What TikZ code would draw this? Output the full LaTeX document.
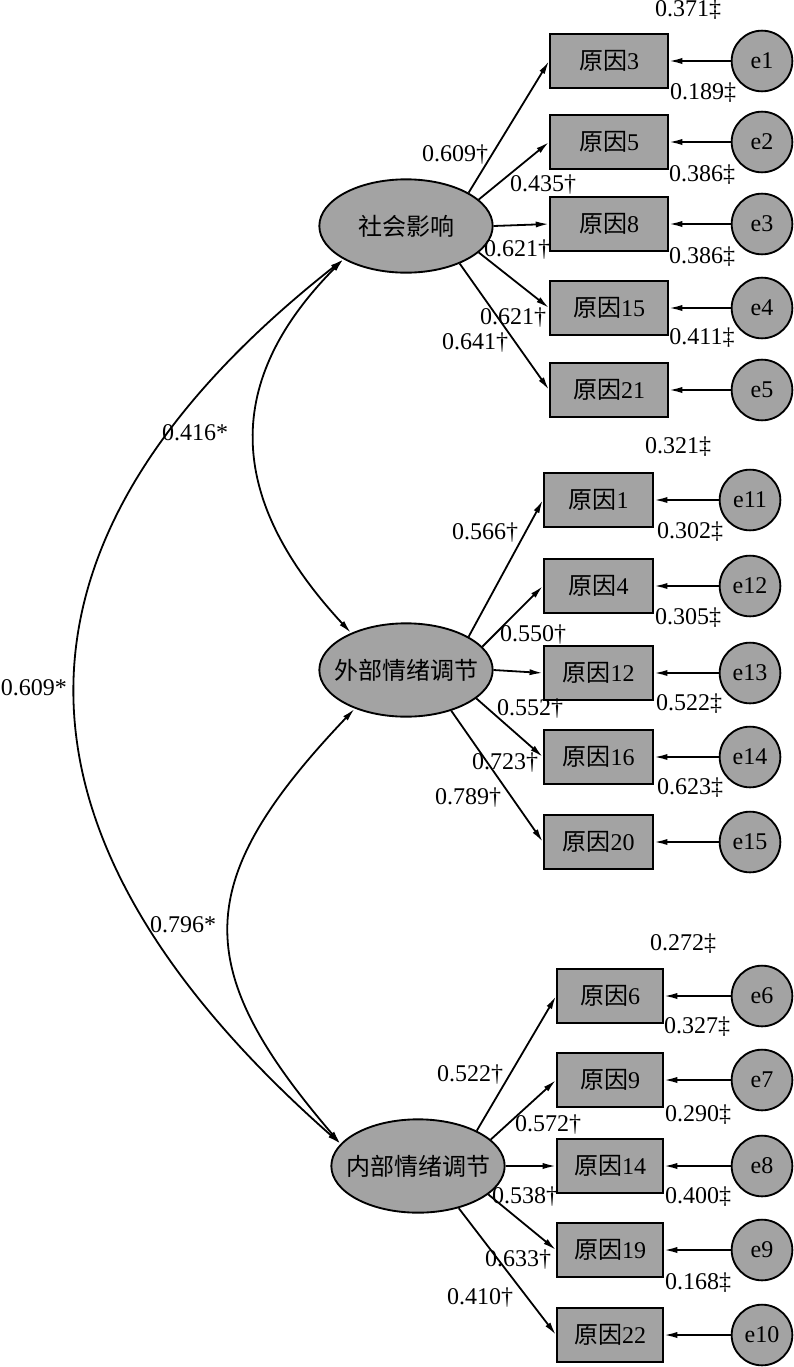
\documentclass[tikz,border=0pt]{standalone}
\usepackage{fontspec}
\setmainfont{Liberation Serif}
\newfontfamily\cjk{Noto Sans CJK SC}
\usetikzlibrary{shapes.geometric,arrows.meta}
\definecolor{fillgray}{RGB}{163,163,163}
\newcommand{\yuanyin}[1]{{\cjk 原因}#1}
\tikzset{
 every node/.style={font=\fontsize{18}{21}\selectfont},
 lat/.style={ellipse, draw, fill=fillgray, line width=1.4pt, minimum width=130pt, minimum height=70pt, inner sep=0pt, font=\cjk\fontsize{18}{21}\selectfont},
 obs/.style={rectangle, draw, fill=fillgray, line width=1.4pt, minimum height=40.5pt, inner sep=0pt},
 err/.style={circle, draw, fill=fillgray, line width=1.4pt, minimum size=45.5pt, inner sep=0pt},
 arr/.style={line width=1.35pt, -{Latex[length=10pt,width=4.6pt]}},
 dbl/.style={line width=1.35pt, {Latex[length=10pt,width=4.6pt]}-{Latex[length=10pt,width=4.6pt]}},
 lbl/.style={inner sep=0pt}
}
\begin{document}
\begin{tikzpicture}[x=0.75pt,y=-0.75pt]
\useasboundingbox (0,0) rectangle (793,1367);
% ---------- top group ----------
\node[lat] (s) at (406,226) {\makebox[0pt]{社会影响}};
\node[obs,minimum width=88.5pt] (b3) at (609,61) {\yuanyin{3}};
\node[obs,minimum width=88.5pt] (b5) at (609,142) {\yuanyin{5}};
\node[obs,minimum width=88.5pt] (b8) at (609,224) {\yuanyin{8}};
\node[obs,minimum width=88.5pt] (b15) at (609,308) {\yuanyin{15}};
\node[obs,minimum width=88.5pt] (b21) at (609,390) {\yuanyin{21}};
\node[err] (e1) at (762,61) {e1};
\node[err] (e2) at (762,142) {e2};
\node[err] (e3) at (762,224) {e3};
\node[err] (e4) at (762,308) {e4};
\node[err] (e5) at (762,390) {e5};
\foreach \a/\b in {e1/b3,e2/b5,e3/b8,e4/b15,e5/b21} \draw[arr] (\a) -- (\b);
\draw[arr] (s.28) -- (b3.west);
\draw[arr] (s.20) -- (b5.west);
\draw[arr] (s.0) -- (b8.west);
\draw[arr] (s.-20) -- (b15.west);
\draw[arr] (s.-35) -- (b21.west);
\node[lbl] (t1) at (688,10) {0.371‡};
\node[lbl] (t2) at (703,93) {0.189‡};
\node[lbl] (t3) at (702,175) {0.386‡};
\node[lbl] (t4) at (702,257) {0.386‡};
\node[lbl] (t5) at (702,338) {0.411‡};
\node[lbl] (t6) at (455,155) {0.609†};
\node[lbl] (t7) at (543,185) {0.435†};
\node[lbl] (t8) at (517,250) {0.621†};
\node[lbl] (t9) at (513,318) {0.621†};
\node[lbl] (t10) at (475,343) {0.641†};
% ---------- middle group ----------
\node[lat] (m) at (406,670) {\makebox[0pt]{外部情绪调节}};
\node[obs,minimum width=82pt] (b1) at (598.5,500) {\yuanyin{1}};
\node[obs,minimum width=82pt] (b4) at (598.5,586) {\yuanyin{4}};
\node[obs,minimum width=82pt] (b12) at (598.5,673) {\yuanyin{12}};
\node[obs,minimum width=82pt] (b16) at (598.5,757) {\yuanyin{16}};
\node[obs,minimum width=82pt] (b20) at (598.5,842) {\yuanyin{20}};
\node[err] (e11) at (750,500) {e11};
\node[err] (e12) at (750,586) {e12};
\node[err] (e13) at (750,673) {e13};
\node[err] (e14) at (750,757) {e14};
\node[err] (e15) at (750,842) {e15};
\foreach \a/\b in {e11/b1,e12/b4,e13/b12,e14/b16,e15/b20} \draw[arr] (\a) -- (\b);
\draw[arr] (m.28) -- (b1.west);
\draw[arr] (m.17.5) -- (b4.west);
\draw[arr] (m.0) -- (b12.west);
\draw[arr] (m.-22) -- (b16.west);
\draw[arr] (m.-42) -- (b20.west);
\node[lbl] (u1) at (678,447) {0.321‡};
\node[lbl] (u2) at (690,532) {0.302‡};
\node[lbl] (u3) at (688,618) {0.305‡};
\node[lbl] (u4) at (689,704) {0.522‡};
\node[lbl] (u5) at (690,788) {0.623‡};
\node[lbl] (u6) at (485,533) {0.566†};
\node[lbl] (u7) at (533,635) {0.550†};
\node[lbl] (u8) at (530,709) {0.552†};
\node[lbl] (u9) at (505,763) {0.723†};
\node[lbl] (u10) at (468,798) {0.789†};
% ---------- bottom group ----------
\node[lat] (i) at (418,1166) {\makebox[0pt]{内部情绪调节}};
\node[obs,minimum width=79.5pt] (b6) at (610,996) {\yuanyin{6}};
\node[obs,minimum width=79.5pt] (b9) at (610,1080) {\yuanyin{9}};
\node[obs,minimum width=79.5pt] (b14) at (610,1166) {\yuanyin{14}};
\node[obs,minimum width=79.5pt] (b19) at (610,1250) {\yuanyin{19}};
\node[obs,minimum width=79.5pt] (b22) at (610,1335) {\yuanyin{22}};
\node[err] (e6) at (762,996) {e6};
\node[err] (e7) at (762,1080) {e7};
\node[err] (e8) at (762,1166) {e8};
\node[err] (e9) at (762,1250) {e9};
\node[err] (e10) at (762,1335) {e10};
\foreach \a/\b in {e6/b6,e7/b9,e8/b14,e9/b19,e10/b22} \draw[arr] (\a) -- (\b);
\draw[arr] (i.31) -- (b6.west);
\draw[arr] (i.20) -- (b9.west);
\draw[arr] (i.0) -- (b14.west);
\draw[arr] (i.-22.5) -- (b19.west);
\draw[arr] (i.-46) -- (b22.west);
\node[lbl] (v1) at (683,944) {0.272‡};
\node[lbl] (v2) at (697,1027) {0.327‡};
\node[lbl] (v3) at (698,1115) {0.290‡};
\node[lbl] (v4) at (698,1197) {0.400‡};
\node[lbl] (v5) at (698,1283) {0.168‡};
\node[lbl] (v6) at (470,1075) {0.522†};
\node[lbl] (v7) at (548,1125) {0.572†};
\node[lbl] (v8) at (525,1197) {0.538†};
\node[lbl] (v9) at (518,1260) {0.633†};
\node[lbl] (v10) at (480,1298) {0.410†};
% ---------- correlations ----------
\draw[dbl] (s.208.7) .. controls (224,380) and (224,496) .. (m.146);
\draw[dbl] (s.208.7) .. controls (-13,540) and (-13,832) .. (i.164);
\draw[dbl] (m.217) .. controls (190,882) and (190,968) .. (i.164);
\node[lbl] (c1) at (195,433) {0.416*};
\node[lbl] (c2) at (34,688) {0.609*};
\node[lbl] (c3) at (183,925) {0.796*};
\end{tikzpicture}
\end{document}
